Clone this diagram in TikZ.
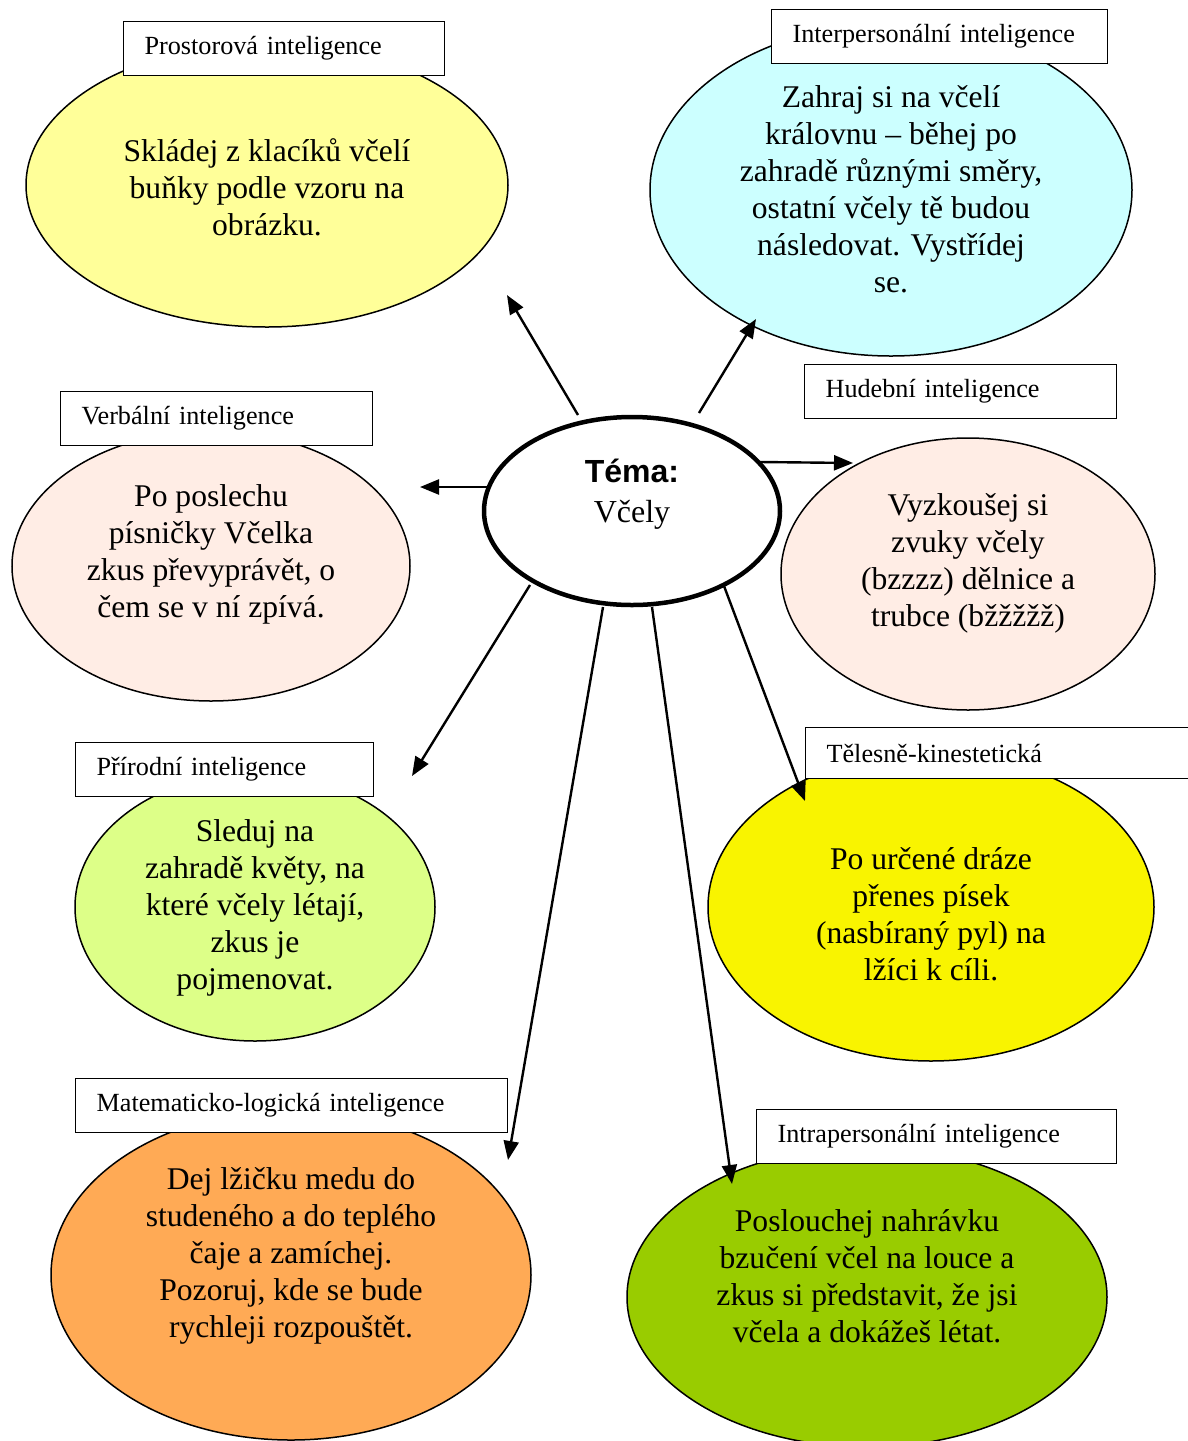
\documentclass[tikz,border=0pt]{standalone}
\usepackage{fontspec}
\setmainfont{Liberation Serif}
\newfontfamily\headsans{Liberation Sans}
\usetikzlibrary{shapes.geometric,arrows.meta}
\definecolor{paleyellow}{HTML}{FFFF99}
\definecolor{palecyan}{HTML}{CCFFFF}
\definecolor{palepink}{HTML}{FFEDE5}
\definecolor{limegreen}{HTML}{DDFF88}
\definecolor{brightyellow}{HTML}{F9F400}
\definecolor{softorange}{HTML}{FFAA55}
\definecolor{leafgreen}{HTML}{99CC00}
\begin{document}
\begin{tikzpicture}[x=1pt,y=-1pt,
  idea/.style={ellipse, draw, line width=1.5pt, inner sep=0pt},
  ideatext/.style={align=center, inner sep=0pt, font=\fontsize{31.6}{37}\selectfont},
  tag/.style={draw, fill=white, line width=1.2pt, anchor=north west, minimum height=54pt,
    inner xsep=21pt, inner ysep=0pt, align=left, font=\fontsize{26.2}{30}\selectfont},
  link/.style={line width=2.4pt, -{Triangle[length=19pt,width=15pt]}},
  hubshape/.style={ellipse, draw, line width=4.5pt, fill=white, inner sep=0pt,
    minimum width=296pt, minimum height=188pt}
]
\useasboundingbox (0,0) rectangle (1188,1441);
\clip (0,0) rectangle (1188,1441);

% --- coloured activity ellipses ---
\node[idea, fill=paleyellow, minimum width=482pt, minimum height=284pt] (prost) at (267,185) {};
\node[idea, fill=palecyan, minimum width=482pt, minimum height=332pt] (inter) at (891,190) {};
\node[idea, fill=palepink, minimum width=374pt, minimum height=272pt] (hud) at (968,574) {};
\node[idea, fill=palepink, minimum width=398pt, minimum height=270pt] (verb) at (211,566) {};
\node[idea, fill=limegreen, minimum width=360pt, minimum height=268pt] (prir) at (255,907) {};
\node[idea, fill=brightyellow, minimum width=446pt, minimum height=308pt] (tel) at (931,907) {};
\node[idea, fill=softorange, minimum width=480pt, minimum height=330pt] (mat) at (291,1275) {};
\node[idea, fill=leafgreen, minimum width=480pt, minimum height=300pt] (intra) at (867,1297) {};

% --- activity texts ---
\node[ideatext] (prostT) at (267,187) {Skládej z klacíků včelí\\buňky podle vzoru na\\obrázku.};
\node[ideatext] (interT) at (891,189) {Zahraj si na včelí\\královnu -- běhej po\\zahradě různými směry,\\ostatní včely tě budou\\následovat. Vystřídej\\se.};
\node[ideatext] (hudT) at (968,563) {Vyzkoušej si\\zvuky včely\\(bzzzz) dělnice a\\trubce (bžžžžž)};
\node[ideatext] (verbT) at (211,554) {Po poslechu\\písničky Včelka\\zkus převyprávět, o\\čem se v ní zpívá.};
\node[ideatext] (prirT) at (255,908) {Sleduj na\\zahradě květy, na\\které včely létají,\\zkus je\\pojmenovat.};
\node[ideatext] (telT) at (931,914) {Po určené dráze\\přenes písek\\(nasbíraný pyl) na\\lžíci k cíli.};
\node[ideatext] (matT) at (291,1256) {Dej lžičku medu do\\studeného a do teplého\\čaje a zamíchej.\\Pozoruj, kde se bude\\rychleji rozpouštět.};
\node[ideatext] (intraT) at (867,1276) {Poslouchej nahrávku\\bzučení včel na louce a\\zkus si představit, že jsi\\včela a dokážeš létat.};

% --- intelligence labels ---
\node[tag, text width=279pt] (prostL) at (123,21) {Prostorová inteligence};
\node[tag, text width=294pt] (interL) at (771,9) {Interpersonální inteligence};
\node[tag, text width=270pt] (hudL) at (804,364) {Hudební inteligence};
\node[tag, text width=270pt] (verbL) at (60,391) {Verbální inteligence};
\node[tag, text width=256pt] (prirL) at (75,742) {Přírodní inteligence};
\node[tag, text width=353pt, minimum height=51pt] (telL) at (805,727) {Tělesně-kinestetická};
\node[tag, text width=390pt] (matL) at (75,1078) {Matematicko-logická inteligence};
\node[tag, text width=318pt] (intraL) at (756,1109) {Intrapersonální inteligence};

% --- arrow end points ---
\coordinate (s1) at (578,415);  \coordinate (t1) at (507,295);
\coordinate (s2) at (699,413);  \coordinate (t2) at (756,319);
\coordinate (s3) at (495,487);  \coordinate (t3) at (420,487);
\coordinate (s4) at (760,462);  \coordinate (t4) at (853,463);
\coordinate (s5) at (530,585);  \coordinate (t5) at (412,776);
\coordinate (s6) at (724,586);  \coordinate (t6) at (805,801);
\coordinate (s7) at (603,607);  \coordinate (t7) at (508,1160);
\coordinate (s8) at (652,607);  \coordinate (t8) at (732,1184);

\foreach \i in {1,...,8} \draw[link] (s\i) -- (t\i);

% --- central topic ---
\node[hubshape] (hub) at (632,511) {};
\node[align=center, inner sep=0pt, font=\fontsize{32}{40}\selectfont] (hubT) at (632,494)
  {{\headsans\bfseries Téma:}\\Včely};
\end{tikzpicture}
\end{document}
